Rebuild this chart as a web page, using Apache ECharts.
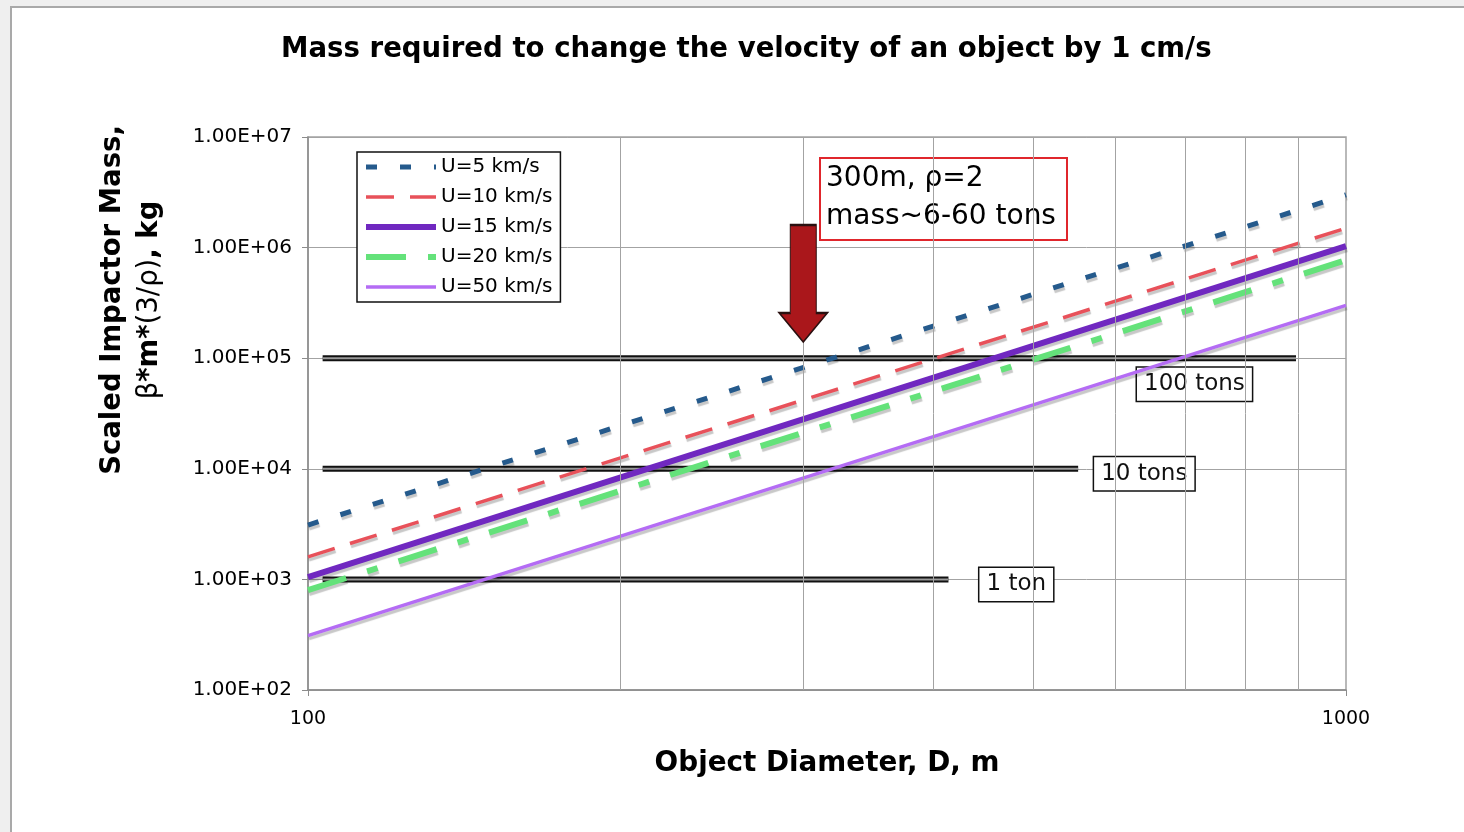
<!DOCTYPE html>
<html>
<head>
<meta charset="utf-8">
<script src="https://cdn.jsdelivr.net/npm/echarts@6/dist/echarts.min.js"></script>
<style>
  html, body { margin: 0; padding: 0; background: #efefef; }
  #frame { position: absolute; left: 10px; top: 6px; width: 1460px; height: 832px;
           background: #fff; border-left: 2px solid #a9a9a9; border-top: 2px solid #a9a9a9; }
  #chart { position: absolute; left: 0; top: 0; width: 1464px; height: 832px; }
</style>
</head>
<body>
<div id="frame"></div>
<div id="chart"></div>
<script>
// Object diameter (m) at the two ends of each curve
const diameters = [100, 1000];

// Scaled impactor mass (kg) for each impact speed
const seriesNames = ['U=5 km/s', 'U=10 km/s', 'U=15 km/s', 'U=20 km/s', 'U=50 km/s'];
const massU5  = [3.1e3, 3.0e6];
const massU10 = [1.6e3, 1.5e6];
const massU15 = [1.05e3, 1.03e6];
const massU20 = [8.0e2, 7.7e5];
const massU50 = [3.1e2, 3.0e5];
const massSeries = [massU5, massU10, massU15, massU20, massU50];

// Reference mass levels, drawn as double lines
const refMass   = [1e5, 1e4, 1e3];
const refLabels = ['100 tons', '10 tons', '1 ton'];
const refStartD = 103.3;
const refEndD   = [895, 552, 414];

// Minor grid positions on the diameter axis
const xMinorGrid = [200, 300, 400, 500, 600, 700, 800, 900];

// Marked case: 300 m object
const arrowTip = [300, 1.4e5];
const noteLines = ['300m, \u03c1=2', 'mass~6-60 tons'];

// Axis tick labels
const xTickLabels = { 100: '100', 1000: '1000' };

const FONT = "'DejaVu Sans', Verdana, sans-serif";

const lineStyles = [
  { color: '#255a8c', width: 5,   type: [11, 23] },
  { color: '#e8515a', width: 3.5, type: [28, 16] },
  { color: '#7028c0', width: 6,   type: 'solid' },
  { color: '#64e27a', width: 6,   type: [40, 22, 11, 22] },
  { color: '#b46cf4', width: 3.5, type: 'solid' }
];

const refLabelOffsets = [[-159, 26], [16, 5], [31, 5]];

function sciLabel(v) {
  const e = Math.round(Math.log10(v));
  return '1.00E+' + String(e).padStart(2, '0');
}

const series = [];

// grid lines at 200..900
series.push({
  type: 'line',
  data: [],
  silent: true,
  z: 1,
  markLine: {
    silent: true,
    symbol: ['none', 'none'],
    label: { show: false },
    lineStyle: { color: '#a3a3a3', width: 1, type: 'solid' },
    data: xMinorGrid.map(v => ({ xAxis: v }))
  }
});

// double reference lines: black band with grey core
refMass.forEach((m, i) => {
  const pts = [[refStartD, m], [refEndD[i], m]];
  series.push({
    type: 'line',
    data: pts,
    silent: true,
    symbol: 'none',
    z: 2,
    lineStyle: { color: '#111', width: 6, type: 'solid' },
    label: { show: false },
    endLabel: {
      show: true,
      formatter: refLabels[i],
      fontFamily: FONT,
      fontSize: 23,
      color: '#111',
      lineHeight: 25,
      backgroundColor: '#fff',
      borderColor: '#111',
      borderWidth: 1.5,
      padding: [4, 7, 4, 7],
      distance: 0,
      offset: refLabelOffsets[i]
    }
  });
  series.push({
    type: 'line',
    data: pts,
    silent: true,
    symbol: 'none',
    z: 2,
    lineStyle: { color: '#9a9a9a', width: 2, type: 'solid' }
  });
});

// mass curves
massSeries.forEach((vals, i) => {
  series.push({
    name: seriesNames[i],
    type: 'line',
    data: diameters.map((d, k) => [d, vals[k]]),
    symbol: 'none',
    showSymbol: false,
    z: 3,
    itemStyle: { color: lineStyles[i].color },
    lineStyle: Object.assign({
      shadowColor: 'rgba(0,0,0,0.22)',
      shadowOffsetX: 1,
      shadowOffsetY: 3,
      shadowBlur: 1
    }, lineStyles[i])
  });
});

// arrow pointing at 300 m
series.push({
  type: 'line',
  data: [],
  silent: true,
  z: 4,
  markPoint: {
    silent: true,
    symbol: 'path://M11,0 L37,0 L37,88 L48,88 L24,117 L0,88 L11,88 Z',
    symbolSize: [48, 117],
    symbolOffset: [0, '-50%'],
    itemStyle: { color: '#aa171b', borderColor: '#2a1010', borderWidth: 1.5 },
    label: { show: false },
    data: [{ coord: arrowTip }]
  }
});

const chart = echarts.init(document.getElementById('chart'), null, { renderer: 'canvas' });
chart.setOption({
  animation: false,
  backgroundColor: 'transparent',
  title: {
    text: 'Mass required to change the velocity of an object by 1 cm/s',
    left: 281,
    top: 36,
    padding: 0,
    textStyle: { fontFamily: FONT, fontSize: 27.6, fontWeight: 'bold', color: '#000' }
  },
  grid: {
    left: 308, right: 118, top: 137, bottom: 142,
    containLabel: false,
    outerBoundsMode: 'none',
    show: true,
    borderColor: '#a3a3a3',
    borderWidth: 1.5,
    backgroundColor: 'transparent'
  },
  legend: {
    orient: 'vertical',
    left: 357,
    top: 152,
    padding: [5, 8, 5, 6],
    itemGap: 10,
    itemWidth: 70,
    itemHeight: 14,
    data: seriesNames.map((n, i) => ({
      name: n,
      lineStyle: {
        width: lineStyles[i].width,
        color: lineStyles[i].color,
        type: lineStyles[i].type,
        shadowColor: 'transparent', shadowBlur: 0, shadowOffsetX: 0, shadowOffsetY: 0
      }
    })),
    itemStyle: { opacity: 0, borderWidth: 0 },
    backgroundColor: '#fff',
    borderColor: '#111',
    borderWidth: 1.5,
    textStyle: { fontFamily: FONT, fontSize: 20, color: '#000' },
    selectedMode: false
  },
  xAxis: {
    type: 'log',
    logBase: 10,
    min: 100,
    max: 1000,
    interval: 1,
    name: 'Object Diameter, D, m',
    nameLocation: 'middle',
    nameGap: 60,
    nameTextStyle: { fontFamily: FONT, fontSize: 27.8, fontWeight: 'bold', color: '#000' },
    axisLine: { lineStyle: { color: '#8c8c8c', width: 1.5 } },
    axisTick: { show: true, length: 6, lineStyle: { color: '#8c8c8c' } },
    axisLabel: {
      fontFamily: FONT, fontSize: 19, color: '#000', margin: 20,
      formatter: v => xTickLabels[Math.round(v)] || ''
    },
    splitLine: { show: false }
  },
  yAxis: {
    type: 'log',
    logBase: 10,
    min: 100,
    max: 1e7,
    interval: 1,
    axisLine: { show: true, lineStyle: { color: '#8c8c8c', width: 1.5 } },
    axisTick: { show: true, length: 6, lineStyle: { color: '#8c8c8c' } },
    axisLabel: {
      fontFamily: FONT, fontSize: 20, color: '#000', margin: 16,
      formatter: sciLabel
    },
    splitLine: { show: true, lineStyle: { color: '#a3a3a3', width: 1 } }
  },
  graphic: [
    {
      type: 'text',
      x: 131,
      y: 300,
      rotation: Math.PI / 2,
      z: 10,
      style: {
        text: '{b|Scaled Impactor Mass,}\n{n|\u03b2}{b|*m*}{n|(3/\u03c1)}{b|, kg}',
        align: 'center',
        verticalAlign: 'middle',
        fill: '#000',
        lineHeight: 37,
        rich: {
          b: { fontFamily: FONT, fontSize: 27.5, fontWeight: 'bold', lineHeight: 37 },
          n: { fontFamily: FONT, fontSize: 27.5, fontWeight: 'normal', lineHeight: 37 }
        }
      }
    },
    {
      type: 'group',
      z: 10,
      children: [
        {
          type: 'rect',
          shape: { x: 820, y: 158, width: 247, height: 82 },
          style: { fill: '#fff', stroke: '#e0262c', lineWidth: 2 }
        },
        {
          type: 'text',
          x: 826,
          y: 160,
          style: {
            text: noteLines.join('\n'),
            fontFamily: FONT,
            fontSize: 28,
            lineHeight: 38,
            fill: '#000'
          }
        }
      ]
    }
  ],
  series: series
});
</script>
</body>
</html>
